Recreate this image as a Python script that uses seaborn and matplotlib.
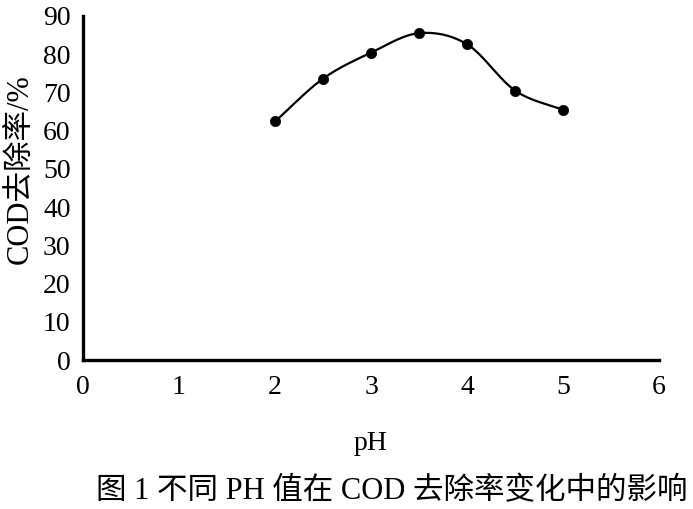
import numpy as np
import pandas as pd
import matplotlib
matplotlib.use("Agg")
import matplotlib.pyplot as plt
import seaborn as sns

ph = [2, 2.5, 3, 3.5, 4, 4.5, 5]
removal = [62.4, 73.6, 80.4, 85.5, 82.6, 70.5, 65.4]
xticks = [0, 1, 2, 3, 4, 5, 6]
yticks = [0, 10, 20, 30, 40, 50, 60, 70, 80, 90]

sns.set_theme(style="white")
plt.rcParams['font.family'] = ['Liberation Serif', 'Noto Sans CJK SC', 'DejaVu Sans']


def catmull_rom(x, y, n=30):
    x = np.asarray(x, float)
    y = np.asarray(y, float)
    px = np.concatenate([[2 * x[0] - x[1]], x, [2 * x[-1] - x[-2]]])
    py = np.concatenate([[2 * y[0] - y[1]], y, [2 * y[-1] - y[-2]]])
    xs, ys = [], []
    t = np.linspace(0, 1, n)
    for i in range(1, len(px) - 2):
        p0, p1, p2, p3 = [np.array([px[j], py[j]]) for j in (i - 1, i, i + 1, i + 2)]
        for tt in t[:-1] if i < len(px) - 3 else t:
            pt = 0.5 * ((2 * p1) + (-p0 + p2) * tt + (2 * p0 - 5 * p1 + 4 * p2 - p3) * tt ** 2
                        + (-p0 + 3 * p1 - 3 * p2 + p3) * tt ** 3)
            xs.append(pt[0]); ys.append(pt[1])
    return np.array(xs), np.array(ys)


df = pd.DataFrame({"pH": ph, "removal": removal})
sx, sy = catmull_rom(ph, removal)
smooth = pd.DataFrame({"pH": sx, "removal": sy})

fig = plt.figure(figsize=(6.93, 5.09), dpi=100)
ax = fig.add_axes([0.1198, 0.2927, 0.951 - 0.1198, 0.9686 - 0.2927])

sns.lineplot(data=smooth, x="pH", y="removal", ax=ax, color="black", linewidth=1.6,
             sort=False, estimator=None)
sns.scatterplot(data=df, x="pH", y="removal", ax=ax, color="black", s=55,
                edgecolor="black", linewidth=0.5, zorder=3)

ax.set_xlim(0, 6)
ax.set_ylim(0, 90)
ax.set_xticks(xticks)
ax.set_yticks(yticks)
ax.set_xticklabels([str(v) for v in xticks], fontsize=20)
ax.set_yticklabels([str(v) for v in yticks], fontsize=20)
ax.tick_params(axis='x', length=0, pad=11, colors='black')
ax.tick_params(axis='y', length=0, pad=9, colors='black')
for s in ["top", "right"]:
    ax.spines[s].set_visible(False)
for s in ["left", "bottom"]:
    ax.spines[s].set_color("black")
    ax.spines[s].set_linewidth(2.4)

ax.set_xlabel("pH", fontsize=20, labelpad=22, color="black")
ax.set_ylabel("COD去除率/%", fontsize=22, color="black")
ax.yaxis.set_label_coords(-0.083, 0.555)

fig.text(0.565, 0.035, "图 1 不同 PH 值在 COD 去除率变化中的影响", ha="center", va="center",
         fontsize=22, color="black")

fig.savefig("out.png", dpi=100, facecolor="white")
